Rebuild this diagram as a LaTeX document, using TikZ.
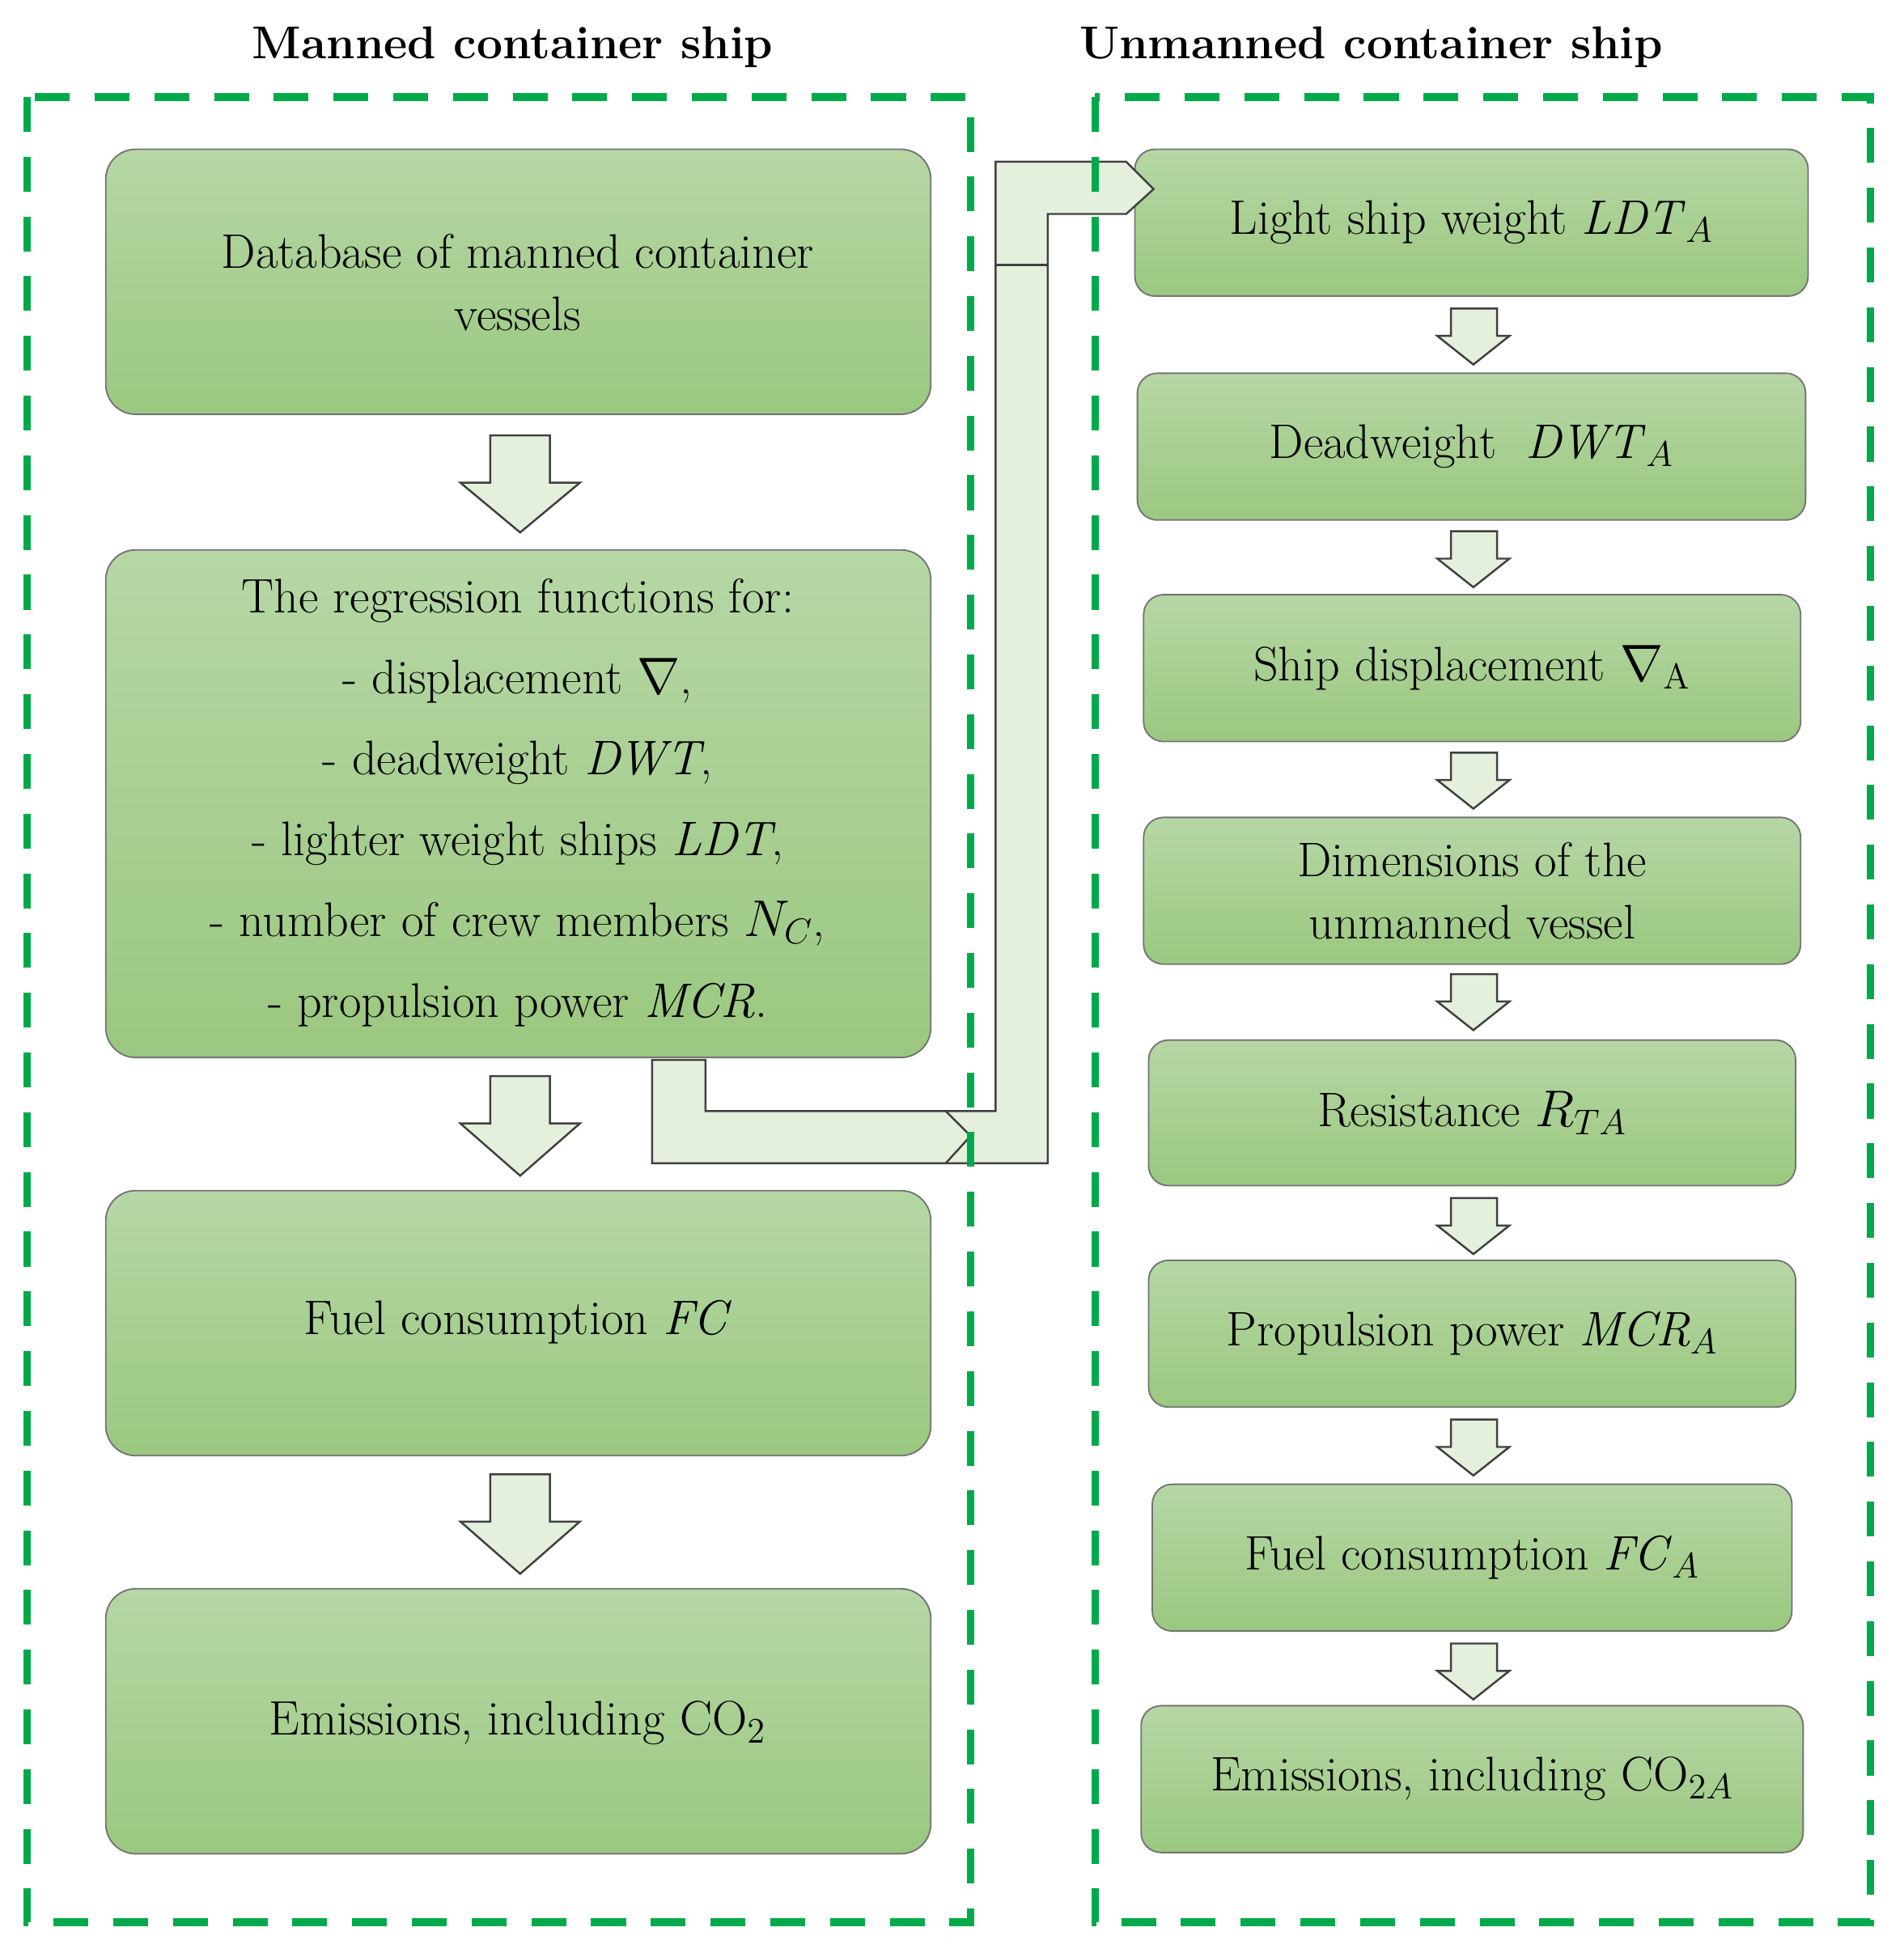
\documentclass[tikz,border=0pt]{standalone}
\usetikzlibrary{shapes.arrows}
\begin{document}
\definecolor{dgreen}{RGB}{0,170,75}
\definecolor{gtop}{RGB}{182,215,165}
\definecolor{gbot}{RGB}{155,200,128}
\definecolor{afill}{RGB}{228,240,220}
\begin{tikzpicture}[x=0.5pt,y=-0.5pt,
  box/.style={draw=black!55,line width=0.6pt,rounded corners=12pt,top color=gtop,bottom color=gbot},
  txt/.style={font=\fontsize{19.5}{25}\selectfont,align=center},
  gdash/.style={draw=dgreen,line width=3pt,dash pattern=on 14pt off 10pt},
  barr/.style={draw=black!75,line width=0.8pt,fill=afill}]
\useasboundingbox (0,0) rectangle (1530,1573);
% titles
\node[font=\fontsize{18.5}{22}\selectfont\bfseries] (t1) at (412,38) {Manned container ship};
\node[font=\fontsize{18.5}{22}\selectfont\bfseries] (t2) at (1102,38) {Unmanned container ship};
% left boxes
\path[box] (85,120) rectangle (748,333);
\node[txt] (l1) at (416,227) {Database of manned container\\vessels};
\path[box] (85,442) rectangle (748,850);
\node[txt,font=\fontsize{19.5}{32.5}\selectfont] (l2) at (416,645) {The regression functions for:\\- displacement $\nabla$,\\- deadweight \textit{DWT},\\- lighter weight ships \textit{LDT},\\- number of crew members $N_C$,\\- propulsion power \textit{MCR}.};
\path[box] (85,957) rectangle (748,1170);
\node[txt] (l3) at (416,1063) {Fuel consumption \textit{FC}};
\path[box] (85,1277) rectangle (748,1490);
\node[txt] (l4) at (416,1385) {Emissions, including CO$_2$};
% left arrows
\foreach \a/\b in {350/428,865/945,1185/1265}{
  \draw[barr] (394,\a) -- (442,\a) -- (442,\a+38) -- (466,\a+38) -- (418,\b) -- (370,\a+38) -- (394,\a+38) -- cycle;
}
% right boxes
\foreach \xa/\xb/\ya/\yb/\n/\t in {
 912/1453/120/238/r1/{Light ship weight \textit{LDT}$_A$},
 914/1451/300/418/r2/{Deadweight\ \ \textit{DWT}$_A$},
 919/1447/478/596/r3/{Ship displacement $\nabla_{\mathrm{A}}$},
 919/1447/657/775/r4/{Dimensions of the\\unmanned vessel},
 923/1443/836/953/r5/{Resistance $R_{TA}$},
 923/1443/1013/1131/r6/{Propulsion power \textit{MCR}$_A$},
 926/1440/1193/1311/r7/{Fuel consumption \textit{FC}$_A$},
 917/1449/1371/1489/r8/{Emissions, including CO$_{2A}$}}{
  \path[box,rounded corners=8pt] (\xa,\ya) rectangle (\xb,\yb);
  \node[txt] (\n) at ({(\xa+\xb)/2},{(\ya+\yb)/2}) {\t};
}
\foreach \a in {248,427,605,783,963,1141,1321}{
  \draw[barr] (1166,\a) -- (1203,\a) -- (1203,\a+22) -- (1213,\a+22) -- (1184,\a+45) -- (1155,\a+22) -- (1166,\a+22) -- cycle;
}
% L-shaped connector arrow
\draw[barr,line join=miter] (524,852) -- (567,852) -- (567,893) -- (800,893) -- (800,130) -- (905,130) -- (927,152) -- (905,172) -- (842,172) -- (842,935) -- (524,935) -- cycle;
\draw[black!75,line width=0.8pt] (760,893) -- (780,913) -- (760,935);
\draw[black!75,line width=0.8pt] (842,172) -- (842,213) -- (800,213);
% dashed frames
\draw[gdash] (22,78) rectangle (780,1545);
\draw[gdash] (880,78) rectangle (1503,1545);
\end{tikzpicture}
\end{document}
